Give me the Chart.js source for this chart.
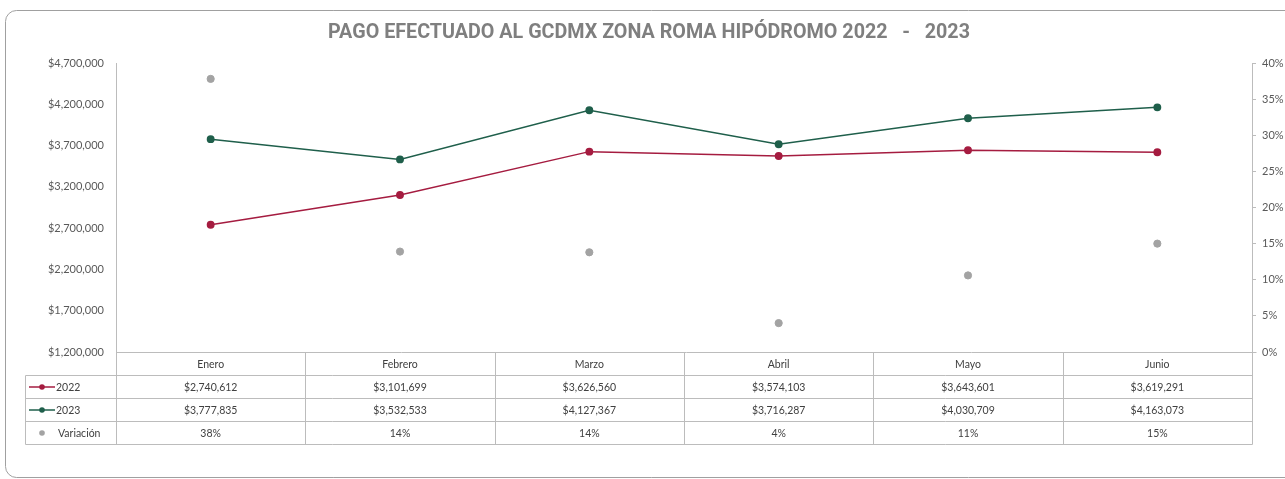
<!DOCTYPE html>
<html>
<head>
<meta charset="utf-8">
<script src="https://cdn.jsdelivr.net/npm/chart.js@4.4.0/dist/chart.umd.min.js"></script>
<style>
  html, body { margin: 0; padding: 0; background: #fff; }
  canvas { display: block; }
</style>
</head>
<body>
<canvas id="pagoChart" width="1285" height="479"></canvas>
<script>
const months = ['Enero', 'Febrero', 'Marzo', 'Abril', 'Mayo', 'Junio'];
const pago2022 = [2740612, 3101699, 3626560, 3574103, 3643601, 3619291];
const pago2023 = [3777835, 3532533, 4127367, 3716287, 4030709, 4163073];
const variacion = [37.8, 13.9, 13.8, 4.0, 10.6, 15.0];
const leftTicks = [1200000, 1700000, 2200000, 2700000, 3200000, 3700000, 4200000, 4700000];
const rightTicks = [0, 5, 10, 15, 20, 25, 30, 35, 40];

const RED = '#a51c40';
const GREEN = '#1f5f4b';
const GRAY = '#a3a3a3';
const AXIS = '#bcbcbc';
const TXT = '#404040';

const money = v => '$' + v.toLocaleString('en-US');

// Frame, title and the data table under the plot
const tablePlugin = {
    id: 'tablePlugin',
    beforeDraw(chart) {
        const ctx = chart.ctx;
        ctx.save();
        ctx.strokeStyle = '#a0a0a0';
        ctx.lineWidth = 1;
        ctx.beginPath();
        ctx.roundRect(5.5, 10.5, 1320, 467, 11);
        ctx.stroke();
        ctx.restore();
    },
    afterDraw(chart) {
        const ctx = chart.ctx;
        const x = chart.scales.x;
        const area = chart.chartArea;
        const rowH = 23;
        const top = Math.round(area.bottom) + 0.5;
        const left = Math.round(area.left) + 0.5;
        const right = Math.round(area.right) + 0.5;
        const legLeft = 25.5;
        const half = (x.getPixelForValue(1) - x.getPixelForValue(0)) / 2;

        ctx.save();
        // title, squeezed to the width it has in the original
        ctx.fillStyle = '#7f7f7f';
        ctx.font = 'bold 20px Roboto, "Liberation Sans", sans-serif';
        ctx.textAlign = 'center';
        ctx.textBaseline = 'middle';
        const title = 'PAGO EFECTUADO AL GCDMX ZONA ROMA HIPÓDROMO 2022   -   2023';
        const tw = ctx.measureText(title).width;
        ctx.translate(649, 33);
        ctx.scale(642 / tw, 1);
        ctx.fillText(title, 0, 0);
        ctx.restore();

        ctx.save();
        ctx.strokeStyle = AXIS;
        ctx.lineWidth = 1;
        ctx.beginPath();
        // horizontal lines
        ctx.moveTo(left, top); ctx.lineTo(right + 4, top);
        for (let r = 1; r <= 4; r++) {
            ctx.moveTo(legLeft, top + r * rowH);
            ctx.lineTo(right, top + r * rowH);
        }
        // vertical lines
        ctx.moveTo(legLeft, top + rowH); ctx.lineTo(legLeft, top + 4 * rowH);
        for (let i = 0; i <= months.length; i++) {
            const px = Math.round(x.getPixelForValue(i) - half) + 0.5;
            ctx.moveTo(px, top); ctx.lineTo(px, top + 4 * rowH);
        }
        ctx.stroke();

        ctx.fillStyle = TXT;
        ctx.font = '10.5px Lato, "Liberation Sans", sans-serif';
        ctx.textAlign = 'center';
        ctx.textBaseline = 'middle';
        months.forEach((m, i) => {
            const cx = x.getPixelForValue(i);
            ctx.fillText(m, cx, top + rowH * 0.5 + 1);
            ctx.fillText(money(pago2022[i]), cx, top + rowH * 1.5 + 1);
            ctx.fillText(money(pago2023[i]), cx, top + rowH * 2.5 + 1);
            ctx.fillText(Math.round(variacion[i]) + '%', cx, top + rowH * 3.5 + 1);
        });

        // legend keys
        const keys = [
            { label: '2022', color: RED, line: true },
            { label: '2023', color: GREEN, line: true },
            { label: 'Variación', color: GRAY, line: false }
        ];
        ctx.textAlign = 'left';
        keys.forEach((k, r) => {
            const cy = top + rowH * (r + 1.5);
            if (k.line) {
                ctx.strokeStyle = k.color;
                ctx.lineWidth = 1.5;
                ctx.beginPath();
                ctx.moveTo(29, cy); ctx.lineTo(55, cy);
                ctx.stroke();
            }
            ctx.fillStyle = k.color;
            ctx.beginPath();
            ctx.arc(42, cy, 2.8, 0, Math.PI * 2);
            ctx.fill();
            ctx.fillStyle = TXT;
            ctx.fillText(k.label, k.line ? 56 : 58, cy + 1);
        });
        ctx.restore();
    }
};

new Chart(document.getElementById('pagoChart'), {
    type: 'line',
    data: {
        labels: months,
        datasets: [
            {
                label: '2022',
                data: pago2022,
                yAxisID: 'y',
                borderColor: RED,
                backgroundColor: RED,
                borderWidth: 1.5,
                pointRadius: 3.2,
                pointHoverRadius: 3.2,
                tension: 0
            },
            {
                label: '2023',
                data: pago2023,
                yAxisID: 'y',
                borderColor: GREEN,
                backgroundColor: GREEN,
                borderWidth: 1.5,
                pointRadius: 3.2,
                pointHoverRadius: 3.2,
                tension: 0
            },
            {
                label: 'Variación',
                data: variacion,
                yAxisID: 'y1',
                showLine: false,
                borderColor: GRAY,
                backgroundColor: GRAY,
                pointRadius: 3.6,
                pointHoverRadius: 3.6
            }
        ]
    },
    options: {
        responsive: false,
        animation: false,
        layout: { padding: { top: 63, bottom: 127, left: 0, right: 0 } },
        plugins: {
            legend: { display: false },
            title: { display: false },
            tooltip: { enabled: false }
        },
        scales: {
            x: {
                display: false,
                offset: true
            },
            y: {
                position: 'left',
                min: 1200000,
                max: 4700000,
                afterFit: s => { s.width = 116; },
                afterBuildTicks: s => { s.ticks = leftTicks.map(v => ({ value: v })); },
                grid: { display: false, drawTicks: false },
                border: { display: true, color: AXIS },
                ticks: {
                    padding: 12,
                    color: '#595959',
                    font: { family: 'Lato, "Liberation Sans", sans-serif', size: 11 },
                    callback: v => money(v)
                }
            },
            y1: {
                position: 'right',
                min: 0,
                max: 40,
                afterFit: s => { s.width = 33; },
                afterBuildTicks: s => { s.ticks = rightTicks.map(v => ({ value: v })); },
                grid: { display: true, drawOnChartArea: false, tickLength: 4, color: AXIS },
                border: { display: true, color: AXIS },
                ticks: {
                    padding: 6,
                    color: '#595959',
                    font: { family: 'Lato, "Liberation Sans", sans-serif', size: 11 },
                    callback: v => v + '%'
                }
            }
        }
    },
    plugins: [tablePlugin]
});
</script>
</body>
</html>
